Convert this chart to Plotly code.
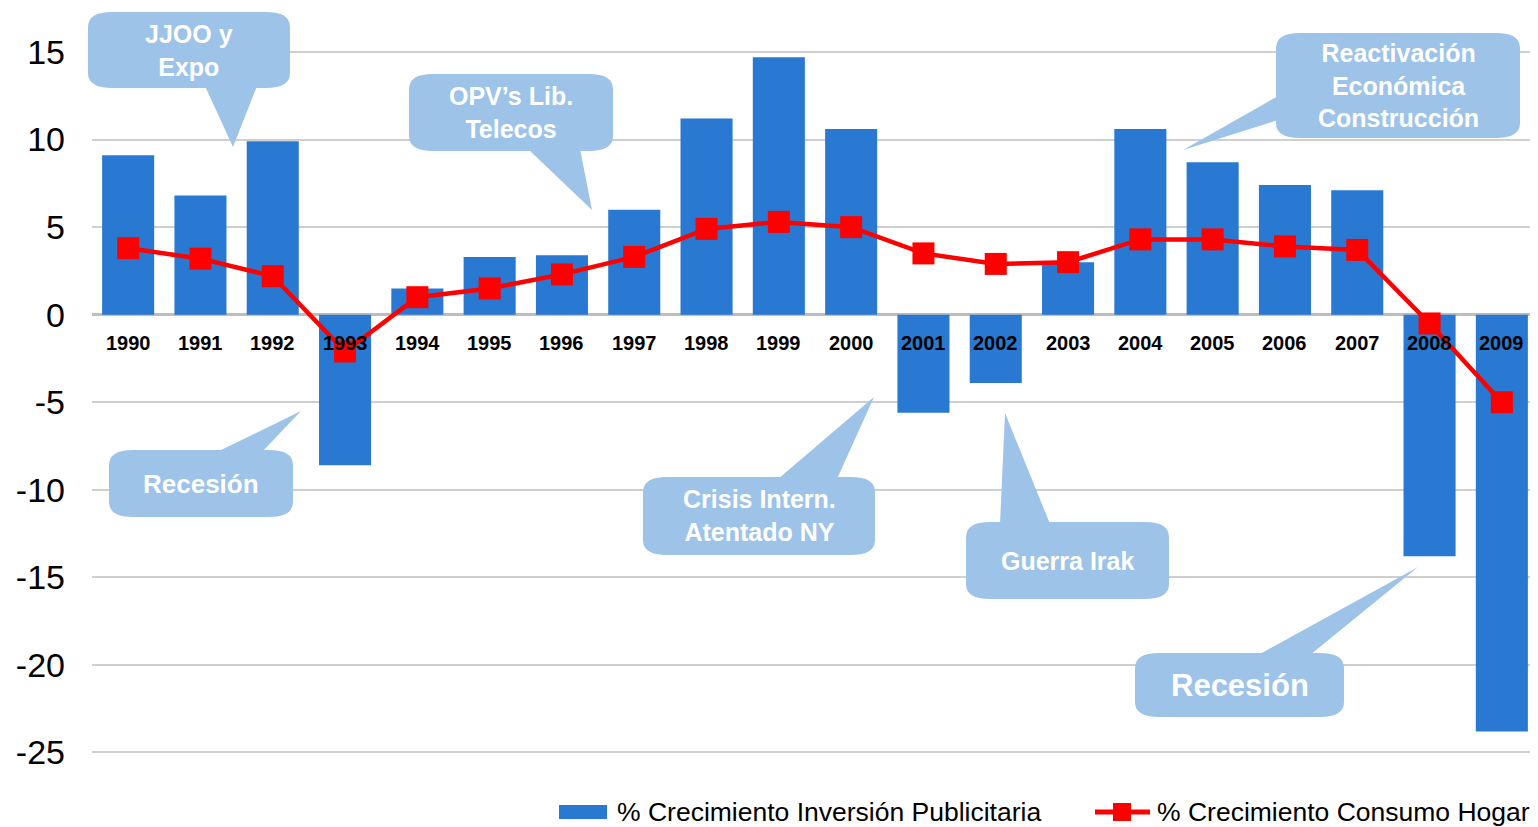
import plotly.graph_objects as go

years = [str(y) for y in range(1990, 2010)]
inversion_publicitaria = [9.1, 6.8, 9.9, -8.6, 1.5, 3.3, 3.4, 6.0, 11.2, 14.7,
                          10.6, -5.6, -3.9, 3.0, 10.6, 8.7, 7.4, 7.1, -13.8, -23.8]
consumo_hogar = [3.8, 3.2, 2.2, -2.1, 1.0, 1.5, 2.3, 3.3, 4.9, 5.3,
                 5.0, 3.5, 2.9, 3.0, 4.3, 4.3, 3.9, 3.7, -0.5, -5.0]
y_ticks = [15, 10, 5, 0, -5, -10, -15, -20, -25]

FONT = "Liberation Sans, Arial, sans-serif"
BAR_COLOR = "#2979d2"
LINE_COLOR = "#ff0000"
CALLOUT_COLOR = "#9dc3e9"

# the page body adds an 8px margin, so the figure is made smaller by that much
OFF = 8
# plot area in screen pixels (used to place the callouts and legend)
L, T, W, H = 92, 10, 1446, 760


def px(x):
    return (x - L) / W


def py(y):
    return (T + H - y) / H


def pt(x, y):
    return f"{px(x):.5f},{py(y):.5f}"


def rounded_rect(x0, y0, x1, y1, rx=24, ry=15):
    return (f"M{pt(x0 + rx, y0)} L{pt(x1 - rx, y0)} Q{pt(x1, y0)} {pt(x1, y0 + ry)} "
            f"L{pt(x1, y1 - ry)} Q{pt(x1, y1)} {pt(x1 - rx, y1)} "
            f"L{pt(x0 + rx, y1)} Q{pt(x0, y1)} {pt(x0, y1 - ry)} "
            f"L{pt(x0, y0 + ry)} Q{pt(x0, y0)} {pt(x0 + rx, y0)} Z")


def triangle(a, b, c):
    return f"M{pt(*a)} L{pt(*b)} L{pt(*c)} Z"


# text, box (x0, y0, x1, y1), tail (base1, base2, tip), font size
callouts = [
    ("JJOO y<br>Expo", (88, 12, 290, 88), ((205, 86), (257, 86), (233, 147)), 25),
    ("OPV’s Lib.<br>Telecos", (409, 74, 613, 151), ((528, 149), (580, 149), (592, 210)), 25),
    ("Reactivación<br>Económica<br>Construcción", (1276, 33, 1520, 138),
     ((1278, 96), (1278, 120), (1183, 150)), 25),
    ("Recesión", (109, 450, 293, 517), ((217, 452), (262, 452), (301, 411)), 26),
    ("Crisis Intern.<br>Atentado NY", (643, 477, 875, 555), ((778, 479), (837, 479), (874, 397)), 25),
    ("Guerra Irak", (966, 522, 1169, 599), ((1000, 524), (1050, 524), (1005, 413)), 25),
    ("Recesión", (1135, 653, 1344, 717), ((1258, 655), (1310, 655), (1418, 567)), 31),
]

bar_name = "% Crecimiento Inversión Publicitaria"
line_name = "% Crecimiento Consumo Hogar"

fig = go.Figure()
fig.add_trace(go.Bar(
    x=years, y=inversion_publicitaria, name=bar_name,
    marker=dict(color=BAR_COLOR, line=dict(width=0)),
))
fig.add_trace(go.Scatter(
    x=years, y=consumo_hogar, name=line_name,
    mode="lines+markers",
    line=dict(color=LINE_COLOR, width=4.5),
    marker=dict(symbol="square", size=22, color=LINE_COLOR),
))

shapes = []
annotations = []
for text, box, tail, size in callouts:
    shapes.append(dict(type="path", xref="paper", yref="paper", path=rounded_rect(*box),
                       fillcolor=CALLOUT_COLOR, line=dict(width=0)))
    shapes.append(dict(type="path", xref="paper", yref="paper", path=triangle(*tail),
                       fillcolor=CALLOUT_COLOR, line=dict(width=0)))
    x0, y0, x1, y1 = box
    annotations.append(dict(xref="paper", yref="paper", x=px((x0 + x1) / 2), y=py((y0 + y1) / 2),
                            xanchor="center", yanchor="middle",
                            text=f"<b>{text}</b>", showarrow=False,
                            font=dict(family=FONT, size=size, color="white")))

# year labels just under the zero line (category index positions)
for i, yr in enumerate(years):
    annotations.append(dict(x=i, y=0, xref="x", yref="y", text=f"<b>{yr}</b>",
                            showarrow=False, yshift=-28, xanchor="center", yanchor="middle",
                            font=dict(family=FONT, size=20, color="black")))

# legend drawn by hand
LEG_Y = 812
shapes.append(dict(type="rect", xref="paper", yref="paper",
                   x0=px(559), x1=px(607), y0=py(805), y1=py(819),
                   fillcolor=BAR_COLOR, line=dict(width=0)))
shapes.append(dict(type="line", xref="paper", yref="paper",
                   x0=px(1095), x1=px(1150), y0=py(LEG_Y), y1=py(LEG_Y),
                   line=dict(color=LINE_COLOR, width=5)))
shapes.append(dict(type="rect", xref="paper", yref="paper",
                   x0=px(1113), x1=px(1131), y0=py(803), y1=py(821),
                   fillcolor=LINE_COLOR, line=dict(width=0)))
annotations.append(dict(xref="paper", yref="paper", x=px(615), y=py(LEG_Y), xanchor="left",
                        yanchor="middle", text=bar_name, showarrow=False,
                        font=dict(family=FONT, size=26.5, color="black")))
annotations.append(dict(xref="paper", yref="paper", x=px(1155), y=py(LEG_Y), xanchor="left",
                        yanchor="middle", text=line_name, showarrow=False,
                        font=dict(family=FONT, size=26.5, color="black")))

fig.update_layout(
    width=1538 - OFF, height=827 - OFF,
    margin=dict(l=L - OFF, r=0, t=T - OFF, b=827 - T - H),
    plot_bgcolor="white", paper_bgcolor="white",
    bargap=0.28,
    showlegend=False,
    font=dict(family=FONT, color="black"),
    xaxis=dict(type="category", range=[-0.5, len(years) - 0.5], showticklabels=False,
               showgrid=False, zeroline=False, showline=False, automargin=False),
    yaxis=dict(range=[-26, 17.4], tickvals=y_ticks, ticktext=[str(v) for v in y_ticks],
               tickfont=dict(size=34), showgrid=True, gridcolor="#cfcfcf", gridwidth=1.5,
               zeroline=True, zerolinecolor="#bdbdbd", zerolinewidth=3,
               showline=False, ticks="", ticklabelstandoff=26, automargin=False),
    shapes=shapes,
    annotations=annotations,
)

fig.write_html("out.html")
